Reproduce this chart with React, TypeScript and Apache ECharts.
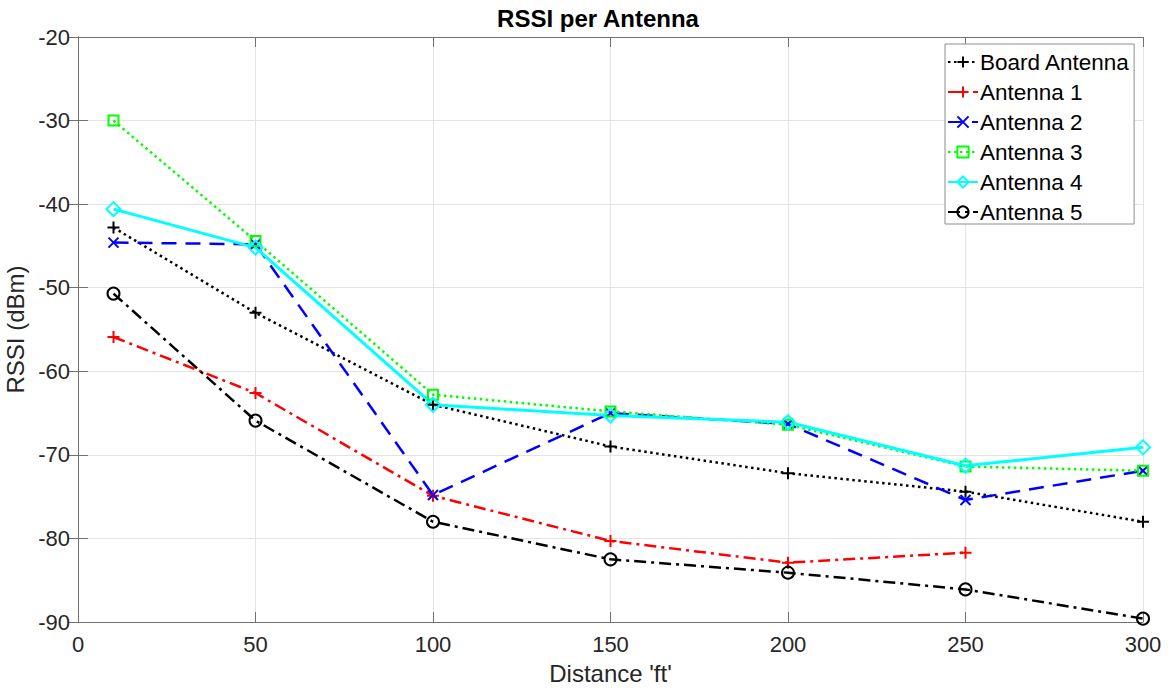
import React, { useEffect, useRef } from "react";
import * as echarts from "echarts";

const distances = [10, 50, 100, 150, 200, 250, 300];
const boardAntenna = [-42.8, -53.0, -64.0, -69.0, -72.2, -74.4, -78.0];
const antenna1 = [-55.9, -62.6, -74.9, -80.3, -82.9, -81.7, null];
const antenna2 = [-44.6, -44.8, -74.8, -65.0, -66.3, -75.4, -71.9];
const antenna3 = [-30.0, -44.4, -62.8, -64.8, -66.4, -71.4, -71.9];
const antenna4 = [-40.6, -45.2, -64.0, -65.3, -66.1, -71.3, -69.1];
const antenna5 = [-50.7, -65.9, -78.0, -82.5, -84.1, -86.1, -89.6];
const seriesNames = ["Board Antenna", "Antenna 1", "Antenna 2", "Antenna 3", "Antenna 4", "Antenna 5"];

const FONT = "'Liberation Sans', Arial, sans-serif";
const PLUS = "path://M5,0L5,10M0,5L10,5";
const CROSS = "path://M0,0L10,10M10,0L0,10";

function pairs(vals: (number | null)[]) {
  return distances.map((d, i) => [d, vals[i]]).filter((p) => p[1] !== null);
}

function mk(
  name: string,
  vals: (number | null)[],
  color: string,
  dash: any,
  symbol: string,
  symbolSize: number,
  width: number
) {
  return {
    name,
    type: "line",
    xAxisIndex: 0,
    yAxisIndex: 0,
    data: pairs(vals),
    symbol,
    symbolSize,
    lineStyle: { color, width, type: dash },
    itemStyle: { color: "rgba(255,255,255,0)", borderColor: color, borderWidth: 2 },
    emphasis: { disabled: true },
  };
}

export default function App() {
  const ref = useRef<HTMLDivElement>(null);
  useEffect(() => {
    const chart = echarts.init(ref.current!, null, { renderer: "svg" });
    const axisLine = { show: true, lineStyle: { color: "#707070", width: 1 } };
    const tick = { show: true, inside: true, length: 10, lineStyle: { color: "#707070" } };
    chart.setOption({
      animation: false,
      backgroundColor: "#ffffff",
      title: {
        text: "RSSI per Antenna",
        left: 598,
        top: 6,
        textAlign: "center",
        padding: 0,
        textStyle: { fontFamily: FONT, fontSize: 24, fontWeight: "bold", color: "#000" },
      },
      legend: {
        orient: "vertical",
        left: 945,
        top: 44,
        width: 188,
        padding: [6, 4, 0, 2],
        itemWidth: 30,
        itemHeight: 14,
        itemGap: 6,
        borderColor: "#8c8c8c",
        borderWidth: 1,
        backgroundColor: "#fff",
        data: seriesNames,
        textStyle: {
          fontFamily: FONT,
          fontSize: 22.5,
          lineHeight: 24,
          color: "#000",
          padding: [0, 0, 0, -3],
        },
      },
      grid: {
        left: 78,
        top: 37,
        right: 30,
        bottom: 68,
        containLabel: false,
        outerBoundsMode: "none",
      },
      xAxis: [
        {
          type: "value",
          min: 0,
          max: 300,
          interval: 50,
          name: "Distance 'ft'",
          nameLocation: "middle",
          nameGap: 39,
          nameTextStyle: { fontFamily: FONT, fontSize: 24, color: "#262626" },
          axisLine,
          axisTick: tick,
          axisLabel: { fontFamily: FONT, fontSize: 22, color: "#262626", margin: 11 },
          splitLine: { show: true, lineStyle: { color: "#e3e3e3", width: 1 } },
        },
        {
          type: "value",
          position: "top",
          min: 0,
          max: 300,
          interval: 50,
          axisLine,
          axisTick: tick,
          axisLabel: { show: false },
          splitLine: { show: false },
        },
      ],
      yAxis: [
        {
          type: "value",
          min: -90,
          max: -20,
          interval: 10,
          name: "RSSI (dBm)",
          nameLocation: "middle",
          nameGap: 43,
          nameTextStyle: { fontFamily: FONT, fontSize: 24, color: "#262626" },
          axisLine,
          axisTick: tick,
          axisLabel: { fontFamily: FONT, fontSize: 22, color: "#262626", margin: 8 },
          splitLine: { show: true, lineStyle: { color: "#e3e3e3", width: 1 } },
        },
        {
          type: "value",
          position: "right",
          min: -90,
          max: -20,
          interval: 10,
          axisLine,
          axisTick: tick,
          axisLabel: { show: false },
          splitLine: { show: false },
        },
      ],
      series: [
        mk(seriesNames[0], boardAntenna, "#000000", [2.5, 3.5], PLUS, 12, 2.5),
        mk(seriesNames[1], antenna1, "#ff0000", [12, 5, 3, 5], PLUS, 12, 2.5),
        mk(seriesNames[2], antenna2, "#0000ff", [15, 9], CROSS, 10, 2.5),
        mk(seriesNames[3], antenna3, "#00ff00", [2.5, 3.5], "rect", 10, 2.5),
        mk(seriesNames[4], antenna4, "#00ffff", "solid", "diamond", 14, 3),
        mk(seriesNames[5], antenna5, "#000000", [12, 5, 3, 5], "circle", 12, 2.5),
      ],
    });
    return () => chart.dispose();
  }, []);
  return (
    <div
      ref={ref}
      style={{ position: "fixed", left: 0, top: 0, width: 1173, height: 690, background: "#fff" }}
    />
  );
}
